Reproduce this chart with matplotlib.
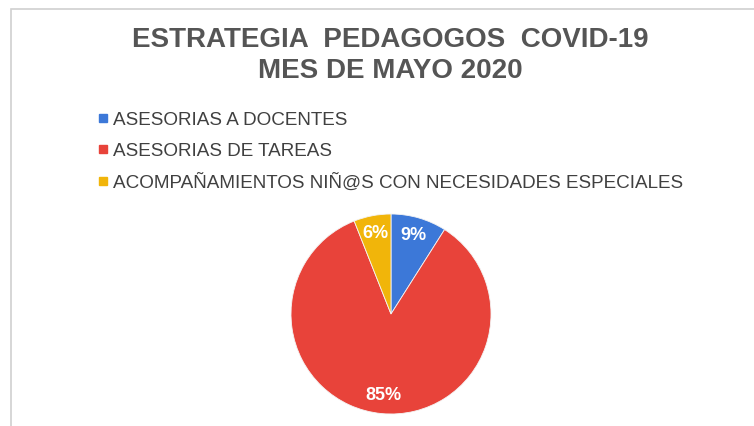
import matplotlib
matplotlib.use('Agg')
import matplotlib.pyplot as plt
from matplotlib.lines import Line2D
from matplotlib.patches import Rectangle

#----- data
categorias = ['ASESORIAS A DOCENTES', 'ASESORIAS DE TAREAS',
              'ACOMPAÑAMIENTOS NIÑ@S CON NECESIDADES ESPECIALES']
porcentajes = [9, 85, 6]
colores = ['#3c78d8', '#e8433a', '#f1b50a']

plt.rcParams['font.family'] = ['Liberation Sans', 'DejaVu Sans']

fig = plt.figure(figsize=(7.54, 4.26), dpi=100)

# chart area frame (light gray)
fig.patches.append(Rectangle((11/754, -0.05), 1.0, (426-9)/426 + 0.05,
                             transform=fig.transFigure, fill=False,
                             edgecolor='#d0d0d0', linewidth=1.2))

fig.text(0.517, 1 - 40/426, 'ESTRATEGIA  PEDAGOGOS  COVID-19', ha='center', va='center',
         fontsize=20, fontweight='bold', color='#555555')
fig.text(0.517, 1 - 71/426, 'MES DE MAYO 2020', ha='center', va='center',
         fontsize=20, fontweight='bold', color='#555555')

handles = [Line2D([], [], linestyle='none', marker='s', markersize=6,
                  markerfacecolor=c, markeredgecolor=c) for c in colores]
fig.legend(handles, categorias, loc='upper left', bbox_to_anchor=(89/754, 1 - 102/426),
           frameon=False, fontsize=13.6, handlelength=0.5, handletextpad=0.25,
           labelspacing=0.74, borderpad=0, labelcolor='#404040')

ax = fig.add_axes([291/754, 12/426, 200/754, 200/426])
wedges, texts, autotexts = ax.pie(porcentajes, colors=colores, startangle=90,
                                  counterclock=False, autopct='%d%%', pctdistance=0.82,
                                  radius=1.0,
                                  wedgeprops=dict(linewidth=0.6, edgecolor='#f4f4f4'),
                                  textprops=dict(color='white', fontsize=13, fontweight='bold'))
ax.set_xlim(-1, 1)
ax.set_ylim(-1, 1)

plt.savefig('out.png', dpi=100)
plt.close('all')
